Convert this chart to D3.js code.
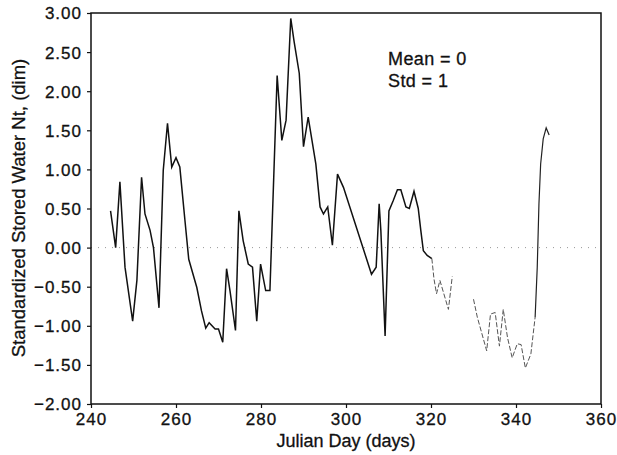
<!DOCTYPE html>
<html>
<head>
<meta charset="utf-8">
<script src="https://cdn.jsdelivr.net/npm/d3@7"></script>
<style>
  body { margin: 0; background: #fff; }
  text { font-family: 'Liberation Sans', Arial, sans-serif; fill: #111; stroke: #111; stroke-width: 0.3px; }
</style>
</head>
<body>
<div id="chart"></div>
<script>
// julian day and standardized stored water (null = no data)
var days = [244.6, 245.8, 246.8, 248.0, 249.8, 250.8, 251.9, 252.7, 253.9, 254.7,
  256.0, 257.0, 258.0, 259.0, 260.0, 260.9, 262.1, 263.0, 264.9, 266.0,
  267.0, 267.8, 269.2, 270.0, 271.0, 271.9, 272.7, 274.0, 274.8, 275.8,
  277.0, 278.0, 279.0, 279.9, 281.1, 282.1, 283.8, 284.9, 285.9, 287.0,
  287.8, 289.0, 290.0, 291.1, 292.9, 293.9, 294.7, 295.7, 296.8, 298.0,
  299.4, 306.0, 307.1, 307.8, 308.2, 309.2, 310.1, 311.1, 312.1, 312.9,
  314.1, 314.9, 316.0, 317.0, 317.6, 318.2, 319.1, 320.2, 320.7, 321.3,
  322.1, 324.1, 325.0, 327.5, 330.0, 330.9, 333.1, 334.0, 335.1, 336.1,
  337.0, 338.0, 339.1, 340.3, 341.2, 342.2, 343.5, 344.5, 345.0, 345.4,
  345.8, 346.4, 347.1, 347.8]
var values = [0.47, 0.00, 0.84, -0.25, -0.94, -0.42, 0.90, 0.43, 0.22, 0.00,
  -0.77, 0.99, 1.59, 1.03, 1.15, 1.03, 0.35, -0.15, -0.51, -0.81,
  -1.03, -0.96, -1.04, -1.04, -1.21, -0.27, -0.55, -1.06, 0.47, 0.09,
  -0.21, -0.25, -0.94, -0.21, -0.55, -0.55, 2.20, 1.37, 1.63, 2.93,
  2.63, 2.23, 1.29, 1.67, 1.07, 0.52, 0.43, 0.52, 0.03, 0.94,
  0.77, -0.34, -0.25, 0.56, 0.22, -1.13, 0.47, 0.60, 0.74, 0.74,
  0.52, 0.50, 0.72, 0.50, 0.22, -0.04, -0.10, -0.14, -0.40, -0.59,
  -0.42, -0.79, -0.37, null, -0.66, -0.89, -1.32, -0.85, -0.83, -1.26,
  -0.79, -1.15, -1.41, -1.23, -1.24, -1.54, -1.36, -0.89, -0.25, 0.56,
  1.07, 1.39, 1.53, 1.44]

var xTicks = [240, 260, 280, 300, 320, 340, 360]
var yTicks = [3, 2.5, 2, 1.5, 1, 0.5, 0, -0.5, -1, -1.5, -2]
var notes = ['Mean = 0', 'Std = 1']

var width = 617
var height = 455
var margin = { top: 13, left: 91, bottom: 51, right: 16 }

var svg = d3.select('#chart').append('svg')
  .attr('width', width)
  .attr('height', height)

var x = d3.scaleLinear()
  .domain([240, 360])
  .range([margin.left, width - margin.right])

var y = d3.scaleLinear()
  .domain([-2, 3])
  .range([height - margin.bottom, margin.top])

// zero reference line
svg.append('line')
  .attr('x1', x(240)).attr('x2', x(360))
  .attr('y1', y(0)).attr('y2', y(0))
  .attr('stroke', '#999')
  .attr('stroke-width', 1)
  .attr('stroke-dasharray', '1,6')

var data = days.map(function (d, i) { return { day: d, v: values[i] } })

var line = d3.line()
  .defined(function (d) { return d.v !== null })
  .x(function (d) { return x(d.day) })
  .y(function (d) { return y(d.v) })

// the scanned trace fades between day 320 and 345
var solidA = data.filter(function (d) { return d.day <= 320.2 })
var faded = data.filter(function (d) { return d.day >= 320.2 && d.day <= 344.5 })
var solidB = data.filter(function (d) { return d.day >= 344.5 })

svg.append('path').datum(solidA)
  .attr('d', line).attr('fill', 'none')
  .attr('stroke', '#111').attr('stroke-width', 1.5)
svg.append('path').datum(faded)
  .attr('d', line).attr('fill', 'none')
  .attr('stroke', '#555').attr('stroke-width', 1)
  .attr('stroke-dasharray', '5,2')
svg.append('path').datum(solidB)
  .attr('d', line).attr('fill', 'none')
  .attr('stroke', '#222').attr('stroke-width', 1.2)

// frame
svg.append('rect')
  .attr('x', x(240)).attr('y', y(3))
  .attr('width', x(360) - x(240))
  .attr('height', y(-2) - y(3))
  .attr('fill', 'none')
  .attr('stroke', '#111')
  .attr('stroke-width', 1.5)

var xAxis = svg.append('g')
  .attr('transform', 'translate(0,' + y(-2) + ')')
  .call(d3.axisBottom(x).tickValues(xTicks).tickSize(4).tickPadding(4))
var yAxis = svg.append('g')
  .attr('transform', 'translate(' + x(240) + ',0)')
  .call(d3.axisLeft(y).tickValues(yTicks).tickSize(4).tickPadding(5).tickFormat(d3.format('.2f')))

;[xAxis, yAxis].forEach(function (g) {
  g.select('.domain').remove()
  g.selectAll('line').attr('stroke', '#111').attr('stroke-width', 1.2)
  g.selectAll('text')
    .style('font-family', "'Liberation Sans', Arial, sans-serif")
    .style('font-size', '17px')
    .style('letter-spacing', '1px')
    .attr('fill', '#111')
})
yAxis.selectAll('text').attr('dy', '0.35em')
xAxis.selectAll('text').attr('dy', '0.75em')

svg.append('text')
  .attr('x', 346)
  .attr('y', 447)
  .attr('text-anchor', 'middle')
  .style('font-size', '18px')
  .text('Julian Day (days)')

svg.append('text')
  .attr('transform', 'translate(25,' + 208 + ') rotate(-90)')
  .attr('text-anchor', 'middle')
  .style('font-size', '18.5px')
  .text('Standardized Stored Water Nt, (dim)')

svg.selectAll('.note')
  .data(notes)
  .enter().append('text')
  .attr('class', 'note')
  .attr('x', 388)
  .attr('y', function (d, i) { return 65 + i * 22 })
  .style('font-size', '18px')
  .style('letter-spacing', '0.4px')
  .text(function (d) { return d })
</script>
</body>
</html>
